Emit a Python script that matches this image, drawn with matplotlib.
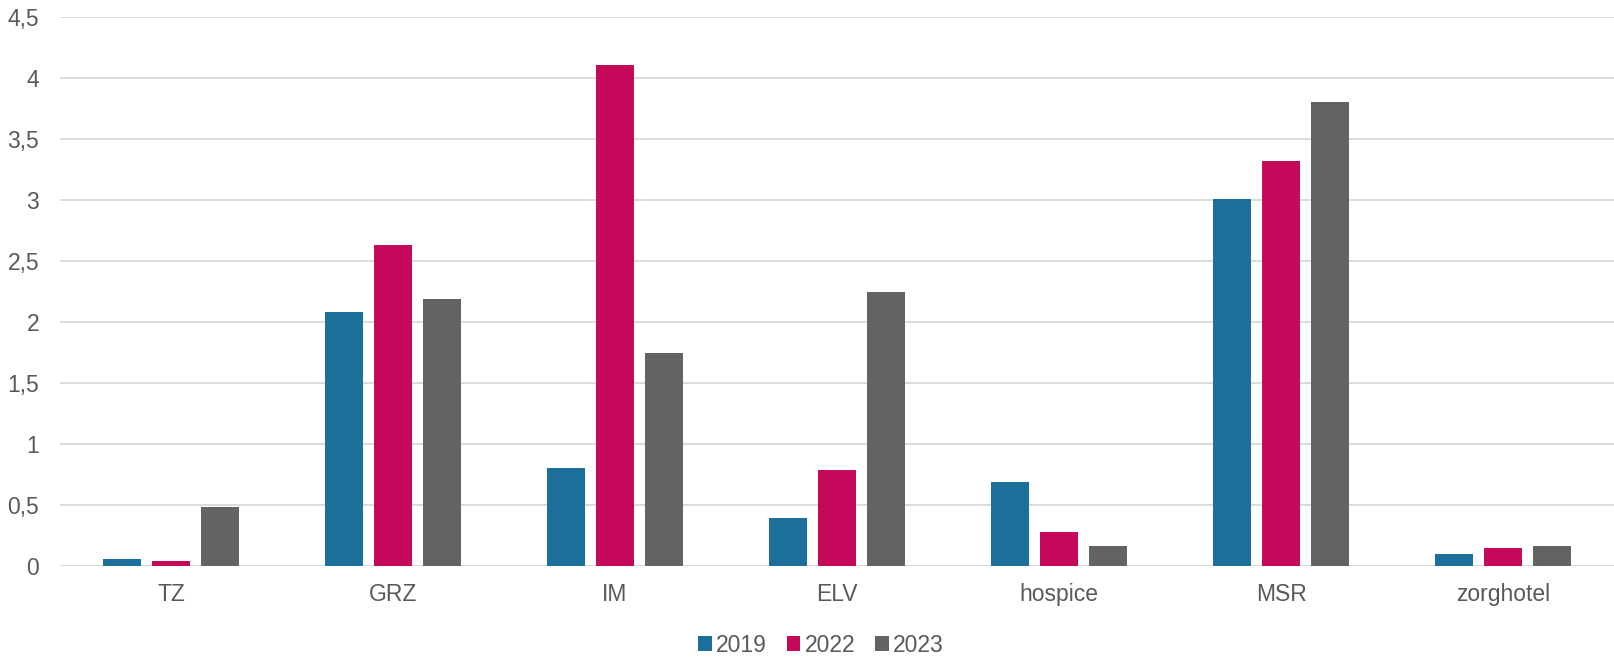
import numpy as np
import matplotlib
matplotlib.use("Agg")
import matplotlib.pyplot as plt
from matplotlib.ticker import FuncFormatter

categories = ["TZ", "GRZ", "IM", "ELV", "hospice", "MSR", "zorghotel"]
years = ["2019", "2022", "2023"]
v2019 = [0.06, 2.08, 0.80, 0.39, 0.69, 3.01, 0.10]
v2022 = [0.04, 2.63, 4.11, 0.79, 0.28, 3.32, 0.15]
v2023 = [0.48, 2.19, 1.75, 2.25, 0.16, 3.80, 0.16]
colors = ["#1B6F9A", "#C5095B", "#636363"]

plt.rcParams['font.family'] = ['Liberation Sans', 'DejaVu Sans']
txt = "#595959"

fig = plt.figure(figsize=(16.14, 6.61), dpi=100)
ax = fig.add_axes([0.0372, 0.1437, 0.9628, 0.8306])

x = np.arange(len(categories))
w = 0.171
step = 0.22
for i, (vals, c) in enumerate(zip([v2019, v2022, v2023], colors)):
    ax.bar(x + (i - 1) * step, vals, w, color=c, label=years[i], zorder=3)

ax.set_xlim(-0.5, len(categories) - 0.5)
ax.set_ylim(0, 4.5)
ax.set_yticks(np.arange(0, 4.51, 0.5))
ax.yaxis.set_major_formatter(FuncFormatter(lambda v, p: ("%g" % v).replace(".", ",")))
ax.set_xticks(x)
ax.set_xticklabels(categories)
ax.grid(axis="y", color="#D9D9D9", linewidth=1.3, zorder=0)
for s in ax.spines.values():
    s.set_visible(False)
ax.tick_params(axis="both", length=0, labelsize=16.5, colors=txt)
ax.tick_params(axis="x", pad=12)
ax.tick_params(axis="y", pad=15)

leg = fig.legend(loc="center", bbox_to_anchor=(821 / 1614, 1 - 645 / 661), ncol=3, frameon=False,
                 fontsize=16.5, handlelength=0.6, handleheight=0.6, handletextpad=0.2,
                 columnspacing=0.85)
for t in leg.get_texts():
    t.set_color(txt)

fig.savefig("out.png", dpi=100)
